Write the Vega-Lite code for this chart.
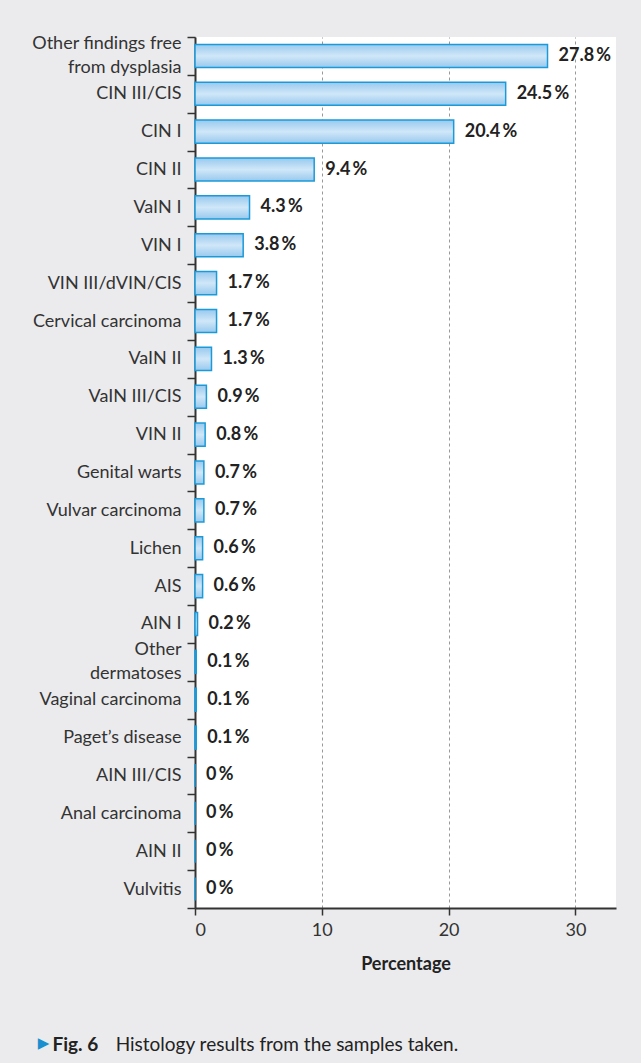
{
  "$schema": "https://vega.github.io/schema/vega-lite/v6.json",
  "autosize": {"type": "none"},
  "padding": {"left": 195, "top": 37, "right": 25, "bottom": 155},
  "width": 421,
  "height": 871,
  "background": "#ebebed",
  "config": {
    "font": "Lato",
    "view": {"fill": "white", "stroke": null}
  },
  "title": {
    "text": "Fig. 6",
    "subtitle": "\u200b\u00a0\u00a0\u00a0\u00a0\u00a0\u00a0\u00a0\u00a0\u00a0\u00a0\u00a0\u00a0\u00a0Histology results from the samples taken.",
    "orient": "bottom",
    "anchor": "start",
    "frame": "bounds",
    "offset": -14,
    "dx": 21,
    "fontSize": 19,
    "fontWeight": "bold",
    "color": "#222222",
    "subtitleFontSize": 19,
    "subtitleColor": "#222222",
    "subtitleFontWeight": "normal",
    "subtitlePadding": -19,
    "font": "Lato",
    "subtitleFont": "Lato"
  },
  "data": {
    "values": [
      {"finding": "Other findings free from dysplasia", "pct": 27.8},
      {"finding": "CIN III/CIS", "pct": 24.5},
      {"finding": "CIN I", "pct": 20.4},
      {"finding": "CIN II", "pct": 9.4},
      {"finding": "VaIN I", "pct": 4.3},
      {"finding": "VIN I", "pct": 3.8},
      {"finding": "VIN III/dVIN/CIS", "pct": 1.7},
      {"finding": "Cervical carcinoma", "pct": 1.7},
      {"finding": "VaIN II", "pct": 1.3},
      {"finding": "VaIN III/CIS", "pct": 0.9},
      {"finding": "VIN II", "pct": 0.8},
      {"finding": "Genital warts", "pct": 0.7},
      {"finding": "Vulvar carcinoma", "pct": 0.7},
      {"finding": "Lichen", "pct": 0.6},
      {"finding": "AIS", "pct": 0.6},
      {"finding": "AIN I", "pct": 0.2},
      {"finding": "Other dermatoses", "pct": 0.1},
      {"finding": "Vaginal carcinoma", "pct": 0.1},
      {"finding": "Paget’s disease", "pct": 0.1},
      {"finding": "AIN III/CIS", "pct": 0},
      {"finding": "Anal carcinoma", "pct": 0},
      {"finding": "AIN II", "pct": 0},
      {"finding": "Vulvitis", "pct": 0}
    ]
  },
  "transform": [
    {"calculate": "format(datum.pct, '.1~f') + '\u2009%'", "as": "label"}
  ],
  "encoding": {
    "y": {
      "field": "finding",
      "type": "nominal",
      "sort": null,
      "scale": {"paddingInner": 0, "paddingOuter": 0},
      "axis": {
        "title": "▶",
        "titleAngle": 0,
        "titleX": -152,
        "titleY": 1005,
        "titleAlign": "center",
        "titleBaseline": "middle",
        "titleColor": "#1a8fd0",
        "titleFontSize": 15,
        "titleFont": "DejaVu Sans",
        "tickBand": "extent",
        "labelExpr": "datum.value == 'Other findings free from dysplasia' ? ['Other findings free', 'from dysplasia'] : datum.value == 'Other dermatoses' ? ['Other', 'dermatoses'] : datum.value",
        "labelLineHeight": 24,
        "labelOffset": {
          "condition": {"test": "datum.value == 'Other findings free from dysplasia' || datum.value == 'Other dermatoses'", "value": -12},
          "value": 0
        },
        "labelFontSize": 18,
        "labelColor": "#333333",
        "labelPadding": 6,
        "tickSize": 8,
        "tickWidth": 1.5,
        "tickColor": "#333333",
        "domainColor": "#333333",
        "domainWidth": 2,
        "grid": false
      }
    }
  },
  "layer": [
    {
      "mark": {
        "type": "bar",
        "height": {"band": 0.61},
        "stroke": "#1b9ad9",
        "strokeWidth": 1.5,
        "color": {
          "gradient": "linear",
          "x1": 0, "y1": 0, "x2": 0, "y2": 1,
          "stops": [
            {"offset": 0, "color": "#98c9ee"},
            {"offset": 0.5, "color": "#d0e7f8"},
            {"offset": 1, "color": "#98c9ee"}
          ]
        }
      },
      "encoding": {
        "x": {
          "field": "pct",
          "type": "quantitative",
          "scale": {"domain": [0, 33.2], "nice": false, "zero": true},
          "axis": {
            "title": "Percentage",
            "titleFontSize": 18,
            "titleFontWeight": "bold",
            "titleColor": "#222222",
            "titlePadding": 16,
            "values": [0, 10, 20, 30],
            "labelFontSize": 18,
            "labelColor": "#333333",
            "labelPadding": 6,
            "tickSize": 7,
            "tickWidth": 1.5,
            "tickColor": "#333333",
            "domainColor": "#333333",
            "domainWidth": 2,
            "grid": true,
            "gridDash": [3, 3],
            "gridColor": "#999999",
            "gridWidth": 1
          }
        }
      }
    },
    {
      "mark": {
        "type": "text",
        "align": "left",
        "baseline": "middle",
        "dx": 11,
        "fontSize": 18,
        "fontWeight": "bold",
        "color": "#222222"
      },
      "encoding": {
        "x": {"field": "pct", "type": "quantitative"},
        "text": {"field": "label"}
      }
    }
  ]
}
